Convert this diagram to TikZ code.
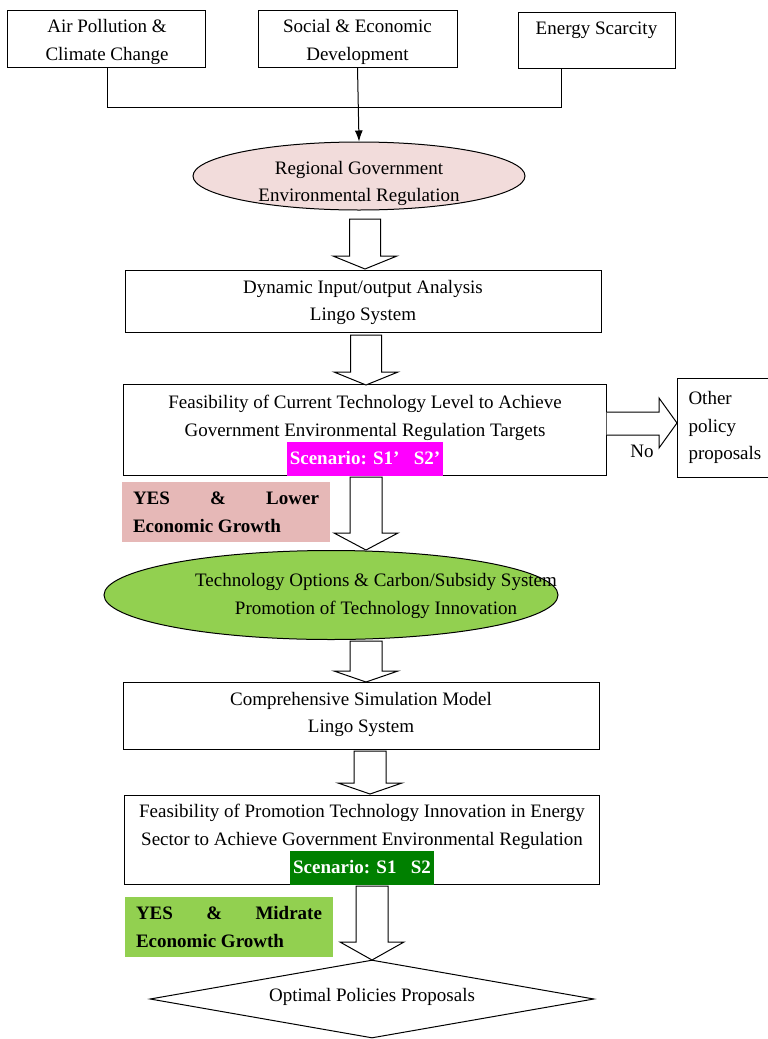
\documentclass[tikz,border=0pt]{standalone}
\usepackage{fontspec}
\setmainfont{Liberation Serif}
\usetikzlibrary{shapes.geometric,arrows.meta}
\definecolor{pinkfill}{HTML}{F2DCDB}
\definecolor{yespink}{HTML}{E6B8B7}
\definecolor{lightgreen}{HTML}{92D050}
\definecolor{darkgreen}{HTML}{008000}
\definecolor{hlmagenta}{HTML}{FF00FF}
\newcommand{\hlbox}[2]{{\setlength{\fboxsep}{3pt}\colorbox{#1}{\textcolor{white}{\bfseries\strut #2}}}}
\newcommand{\blockarrow}[5]{% x, top, base, tip, shaft half width
  \draw[barrow] ({#1-#5},#2) -- ({#1+#5},#2) -- ({#1+#5},#3) -- ({#1+32},#3) -- (#1,#4) -- ({#1-32},#3) -- ({#1-#5},#3) -- cycle;}
\begin{document}
\begin{tikzpicture}[x=1pt,y=-1pt,
  every node/.style={font=\fontsize{19}{27.7}\selectfont, inner sep=0pt},
  box/.style={draw, line width=1pt, rectangle},
  txt/.style={align=center},
  ell/.style={draw, line width=1pt, ellipse},
  barrow/.style={draw, line width=1pt, fill=white, line join=miter},
  conn/.style={draw, line width=1pt},
  yesbox/.style={rectangle, align=left, minimum width=208pt, minimum height=60pt, font=\fontsize{19}{27.7}\selectfont\bfseries}]
\useasboundingbox (0,0) rectangle (768,1039);
\clip (0,0) rectangle (768,1039);
\fill[white] (0,0) rectangle (768,1039);

% top boxes
\node[box, minimum width=198pt, minimum height=57pt] (b1) at (106,38.5) {};
\node[txt] (b1t) at (107,42) {Air Pollution \&\\Climate Change};
\node[box, minimum width=199pt, minimum height=57pt] (b2) at (357.5,38.5) {};
\node[txt] (b2t) at (357.5,42) {Social \& Economic\\Development};
\node[box, minimum width=157pt, minimum height=56pt] (b3) at (596.5,40) {};
\node[txt] (b3t) at (596.5,30) {Energy Scarcity};

\coordinate (j1) at (107,107);
\coordinate (j2) at (561,107);
\draw[conn] (b1.south -| j1) -- (j1) -- (j2) -- (b3.south -| j2);

% ellipse 1
\node[ell, fill=pinkfill, minimum width=332pt, minimum height=68pt] (e1) at (359,176) {};
\node[txt] (e1t) at (359,183.5) {Regional Government\\Environmental Regulation};
\draw[line width=1pt, -{Latex[length=11pt,width=8pt]}] (b2.south) -- (e1.north);

% box 4
\node[box, minimum width=476pt, minimum height=62pt] (b4) at (363,301) {};
\node[txt] (b4t) at (363,302.5) {Dynamic Input/output Analysis\\Lingo System};

% box 5
\node[box, minimum width=483pt, minimum height=91pt] (b5) at (364.5,430) {};
\node[txt] (b5t) at (365,435.5) {Feasibility of Current Technology Level to Achieve\\Government Environmental Regulation Targets\\\hlbox{hlmagenta}{Scenario: S1’\ \ \ S2’}};

% other policy proposals
\node[box, align=left, text width=100pt, minimum height=99pt, inner xsep=11pt, anchor=west] (b6) at (677,427.5) {Other\\policy\\proposals};

% right block arrow
\draw[barrow] (b5.east |- 0,412) -- (659,412) -- (659,398) -- (b6.west |- 0,423) -- (659,448) -- (659,435) -- (b5.east |- 0,435);
\node[anchor=base] (no) at (642,457) {No};

% yes lower
\node[yesbox, fill=yespink] (y1) at (226,512) {\hbox to 186pt{YES\hfill\&\hfill Lower}\\Economic Growth};

% ellipse 2
\node[ell, fill=lightgreen, minimum width=454pt, minimum height=89pt] (e2) at (331,595) {};
\node[txt] (e2t) at (376,596) {Technology Options \& Carbon/Subsidy System\\Promotion of Technology Innovation};

% box 7
\node[box, minimum width=476pt, minimum height=67pt] (b7) at (361,716) {};
\node[txt] (b7t) at (361,714.5) {Comprehensive Simulation Model\\Lingo System};

% box 8
\node[box, minimum width=475pt, minimum height=89pt] (b8) at (361.5,839.5) {};
\node[txt] (b8t) at (362,844.5) {Feasibility of Promotion Technology Innovation in Energy\\Sector to Achieve Government Environmental Regulation\\\hlbox{darkgreen}{Scenario: S1\ \ \ S2}};

% yes midrate
\node[yesbox, fill=lightgreen] (y2) at (229,927) {\hbox to 186pt{YES\hfill\&\hfill Midrate}\\Economic Growth};

% diamond
\node[draw, line width=1pt, diamond, aspect=5.7, minimum width=444pt, minimum height=78pt] (d) at (372,999) {};
\node (dt) at (372,997) {Optimal Policies Proposals};

% block arrows
\blockarrow{365}{219}{256}{269}{15.5}
\blockarrow{366}{335}{372}{385}{15.5}
\blockarrow{366}{477}{533}{550}{16}
\blockarrow{366}{641}{671}{682}{16}
\blockarrow{370}{751}{783}{794}{16}
\blockarrow{372}{886}{942}{960}{16}
\end{tikzpicture}
\end{document}
